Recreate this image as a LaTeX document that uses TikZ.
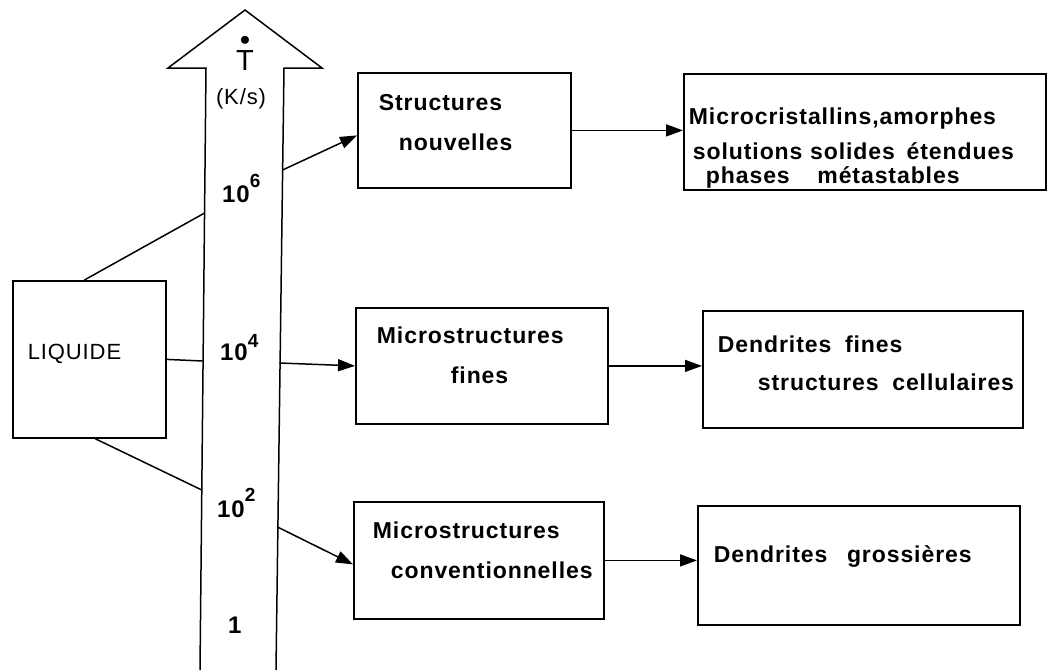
\documentclass[tikz,border=0pt]{standalone}
\usepackage{amsmath}
\usepackage{fontspec}
\setmainfont{Liberation Sans}[LetterSpace=4]
\usetikzlibrary{arrows.meta, positioning}

\begin{document}
\begin{tikzpicture}[x=1pt, y=-1pt,
  box/.style={draw, line width=1.8pt, anchor=north west, align=left, inner sep=0pt, font=\fontsize{23}{40}\selectfont\bfseries},
  num/.style={anchor=base west, inner sep=0pt, font=\fontsize{24}{24}\selectfont\bfseries},
  conn/.style={-{Triangle[length=17pt, width=12pt]}, line width=1.5pt},
  spoke/.style={-, line width=1.5pt}
]
\useasboundingbox (0,0) rectangle (1053,670);
% rate axis
\draw[line width=1.5pt] (200,670) -- (206,68) -- (168,68) -- (245,10) -- (322,68) -- (284,68) -- (276,670);
\coordinate (sl6) at (204.6,213);
\coordinate (sl4) at (202.5,361);
\coordinate (sl2) at (201.8,490);
\coordinate (sr6) at (282.6,170);
\coordinate (sr4) at (279.5,363);
\coordinate (sr2) at (277.5,527);
\node[anchor=base, inner sep=0pt, font=\fontsize{29}{29}\selectfont] (tdot) at (245,70) {$\overset{\bullet}{\text{T}}$};
\node[anchor=base, inner sep=0pt, font=\fontsize{22}{22}\selectfont] (unit) at (241,104) {(K/s)};
\node[num] (e6) at (222,202) {10\raisebox{15pt}{\fontsize{19}{19}\selectfont 6}};
\node[num] (e4) at (220,360) {10\raisebox{13pt}{\fontsize{19}{19}\selectfont 4}};
\node[num] (e2) at (217,517) {10\raisebox{16pt}{\fontsize{19}{19}\selectfont 2}};
\node[num] (e0) at (228,633) {1};
% boxes
\node[box, minimum width=153pt, minimum height=157pt, text width=123pt, text depth=15pt, font=\fontsize{22}{22}\selectfont] (liq) at (12,280) {LIQUIDE};
\node[box, minimum width=213pt, minimum height=115pt, text width=171pt, text depth=56pt] (nouv) at (357,72) {Structures\\\hspace*{20pt}nouvelles};
\node[box, minimum width=252pt, minimum height=116pt, text width=210pt, text depth=61pt] (fines) at (355,307) {Microstructures\\\hspace*{74pt}fines};
\node[box, minimum width=250pt, minimum height=117pt, text width=212pt, text depth=60pt] (conv) at (353,501) {Microstructures\\\hspace*{18pt}\mbox{conventionnelles}};
\node[box, minimum width=362pt, minimum height=116pt, text width=352pt, text depth=31pt] (meta) at (683,73) {Microcristallins,amorphes\\[-5pt]\hspace*{4pt}solutions solides\hspace{4pt} étendues\\[-16pt]\hspace*{17pt}phases\hspace{20pt} métastables};
\node[box, minimum width=320pt, minimum height=117pt, text width=290pt, text depth=50pt] (dend) at (702,310) {Dendrites\hspace{6pt} fines\\[-2pt]\hspace*{40pt}\mbox{structures\hspace{6pt} cellulaires}};
\node[box, minimum width=322pt, minimum height=119pt, text width=290pt, text depth=22pt] (gros) at (697,505) {Dendrites\hspace{12pt} grossières};
% connectors
\draw[spoke] ([xshift=-5pt]liq.north) -- (sl6);
\draw[spoke] (liq.east) -- (sl4);
\draw[spoke] ([xshift=6pt]liq.south) -- (sl2);
\draw[conn] (sr6) -- ([yshift=-5pt]nouv.west);
\draw[conn] (sr4) -- (fines.west);
\draw[conn] (sr2) -- ([yshift=-4pt]conv.west);
\draw[conn] (nouv.east) -- (nouv.east -| meta.west);
\draw[conn] (fines.east) -- (fines.east -| dend.west);
\draw[conn] (conv.east) -- (conv.east -| gros.west);
\end{tikzpicture}
\end{document}
